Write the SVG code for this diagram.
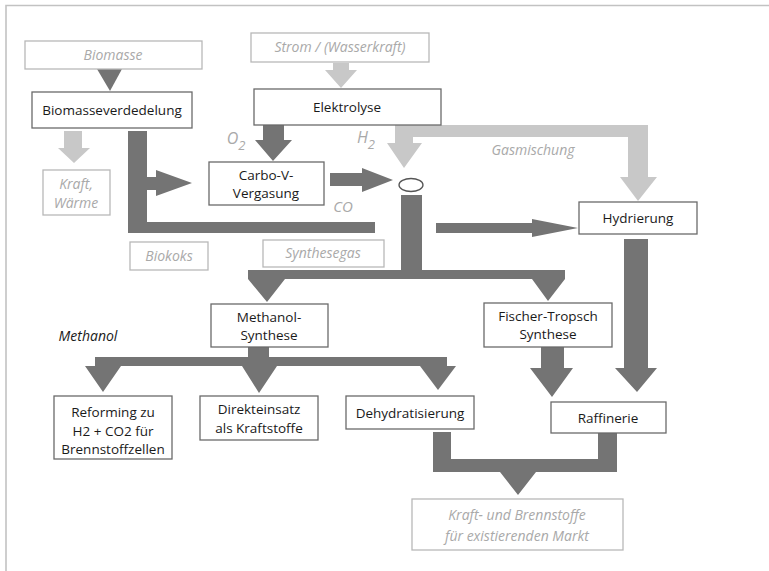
<svg xmlns="http://www.w3.org/2000/svg" width="769" height="571" viewBox="0 0 769 571">
<style>
text{font-family:"Open Sans","Noto Sans","Liberation Sans",sans-serif;font-size:13.5px;text-anchor:middle}
.bx{fill:#fff;stroke:#6a6a6a;stroke-width:1.3}
.gbx{fill:#fff;stroke:#b8b8b8;stroke-width:1.3}
.t{fill:#1a1a1a}
.g{fill:#a9a9a9;font-style:italic;font-size:14px}
.dk{fill:#747474}
.lt{fill:#c8c8c8}
</style>
<rect width="769" height="571" fill="#fff"/>
<path d="M6,571 V5.5 H769" fill="none" stroke="#c2c2c2" stroke-width="1.6"/>

<g id="connectors">
<polygon class="dk" points="97,69 122,69 110,91"/>
<polygon class="lt" points="333,63 349,63 349,70 357,70 341,88 325,70 333,70"/>
<polygon class="lt" points="64,131 82,131 82,148 90,148 74,163 58,148 64,148"/>
<path class="dk" d="M128,131 H147 V177 H156 V170 L192,183 L156,196 V190 H147 V222 H375 V233 H128 Z"/>
<polygon class="dk" points="263,125 284,125 284,140 292,140 273,161 255,140 263,140"/>
<polygon class="dk" points="330,173 362,173 362,168 393,180 362,192 362,186 330,186"/>
<path class="lt" d="M395,125 H648 V177 H657 L638,201 L620,177 H628 V137 H413 V143 H422 L404,168 L387,143 H395 Z"/>
<path class="dk" d="M248,270 H401 V195 H422 V270 H565 V279 L548,301 L532,279 H285 L267,302 L248,279 Z"/>
<polygon class="dk" points="436,223 532,223 532,219 578,228 532,237 532,233 436,233"/>
<polygon class="dk" points="624,239 648,239 648,368 657,368 637,392 615,368 624,368"/>
<polygon class="dk" points="541,347 564,347 564,368 573,368 552,397 530,368 541,368"/>
<path class="dk" d="M95,357 H248 V347 H269 V357 H447 V366 H456 L438,390 L420,366 H277 L259,393 L242,366 H121 L103,392 L85,366 H95 Z"/>
<path class="dk" d="M433,432 H451 V459 H598 V433 H617 V472 H536 L518,495 L500,472 H433 Z"/>
</g>

<g id="biomasse"><rect class="gbx" x="25" y="41" width="177" height="28"/><text class="g" x="113" y="60">Biomasse</text></g>
<g id="strom"><rect class="gbx" x="251" y="33" width="178" height="29"/><text class="g" x="340" y="52">Strom / (Wasserkraft)</text></g>
<g id="biomasseverdedelung"><rect class="bx" x="32" y="92" width="160" height="36"/><text class="t" x="112" y="115">Biomasseverdedelung</text></g>
<g id="elektrolyse"><rect class="bx" x="254" y="89" width="187" height="36"/><text class="t" x="347" y="112">Elektrolyse</text></g>
<g id="kraft-waerme"><rect class="gbx" x="43" y="170" width="67" height="45"/><text class="g" x="76" y="189">Kraft,</text><text class="g" x="76" y="208">Wärme</text></g>
<g id="carbo-v"><rect class="bx" x="209" y="162" width="115" height="43"/><text class="t" x="266" y="180">Carbo-V-</text><text class="t" x="266" y="198">Vergasung</text></g>
<g id="o2"><text class="g" x="236" y="144" style="font-size:16px">O<tspan dy="6" style="font-size:13px">2</tspan></text></g>
<g id="h2"><text class="g" x="366" y="143" style="font-size:16px">H<tspan dy="6" style="font-size:13px">2</tspan></text></g>
<g id="co"><text class="g" x="343" y="212" style="font-size:15px">CO</text></g>
<g id="gasmischung"><text class="g" x="533" y="155">Gasmischung</text></g>
<g id="mischer"><ellipse cx="411" cy="185" rx="12" ry="6.5" fill="#fff" stroke="#555" stroke-width="1.3"/></g>
<g id="hydrierung"><rect class="bx" x="579" y="202" width="118" height="32"/><text class="t" x="638" y="223">Hydrierung</text></g>
<g id="biokoks"><rect class="gbx" x="130" y="242" width="78" height="28"/><text class="g" x="169" y="261">Biokoks</text></g>
<g id="synthesegas"><rect class="gbx" x="263" y="240" width="121" height="27"/><text class="g" x="323" y="258">Synthesegas</text></g>
<g id="methanol-synthese"><rect class="bx" x="211" y="304" width="117" height="43"/><text class="t" x="269" y="322">Methanol-</text><text class="t" x="269" y="340">Synthese</text></g>
<g id="fischer-tropsch"><rect class="bx" x="484" y="303" width="128" height="44"/><text class="t" x="548" y="321">Fischer-Tropsch</text><text class="t" x="548" y="339">Synthese</text></g>
<g id="methanol"><text x="88" y="341" style="fill:#1a1a1a;font-style:italic;font-size:14px">Methanol</text></g>
<g id="reforming"><rect class="bx" x="54" y="396" width="118" height="63"/><text class="t" x="113" y="417">Reforming zu</text><text class="t" x="113" y="435.5">H2 + CO2 für</text><text class="t" x="113" y="454">Brennstoffzellen</text></g>
<g id="direkteinsatz"><rect class="bx" x="200" y="396" width="118" height="44"/><text class="t" x="259" y="414">Direkteinsatz</text><text class="t" x="259" y="432.5">als Kraftstoffe</text></g>
<g id="dehydratisierung"><rect class="bx" x="346" y="396" width="128" height="33"/><text class="t" x="410" y="418">Dehydratisierung</text></g>
<g id="raffinerie"><rect class="bx" x="551" y="402" width="115" height="31"/><text class="t" x="608" y="423">Raffinerie</text></g>
<g id="markt"><rect class="gbx" x="412" y="499" width="211" height="51"/><text class="g" x="517" y="520">Kraft- und Brennstoffe</text><text class="g" x="517" y="541">für existierenden Markt</text></g>
</svg>
